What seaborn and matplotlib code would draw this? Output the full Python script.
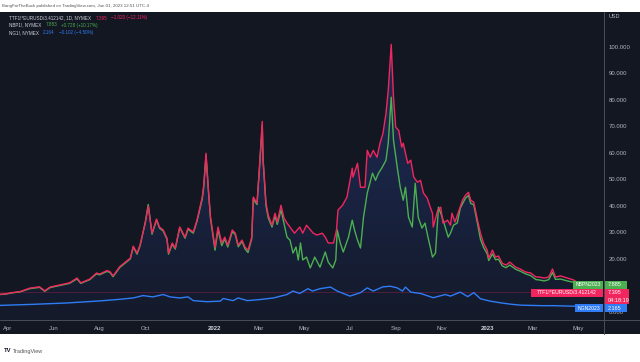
import matplotlib
matplotlib.use("Agg")
import matplotlib.pyplot as plt
import matplotlib.dates as mdates
from matplotlib.patches import Rectangle
from matplotlib.lines import Line2D
from matplotlib.colors import LinearSegmentedColormap
import numpy as np
import pandas as pd
import seaborn as sns

# ---------------- data ----------------
ttf_dates = [
    "2021-03-21", "2021-03-28", "2021-04-06", "2021-04-17", "2021-04-30", "2021-05-13", "2021-05-20",
    "2021-05-27", "2021-06-09", "2021-06-22", "2021-07-02", "2021-07-07", "2021-07-19", "2021-07-28",
    "2021-08-01", "2021-08-11", "2021-08-15", "2021-08-19", "2021-08-28", "2021-09-11", "2021-09-15",
    "2021-09-20", "2021-09-24", "2021-10-01", "2021-10-05", "2021-10-10", "2021-10-16", "2021-10-20",
    "2021-10-25", "2021-10-30", "2021-11-01", "2021-11-06", "2021-11-10", "2021-11-16", "2021-11-23",
    "2021-11-27", "2021-12-04", "2021-12-09", "2021-12-16", "2021-12-18", "2021-12-21", "2021-12-24",
    "2021-12-27", "2022-01-02", "2022-01-06", "2022-01-11", "2022-01-15", "2022-01-19", "2022-01-25",
    "2022-01-29", "2022-02-02", "2022-02-07", "2022-02-11", "2022-02-15", "2022-02-20", "2022-02-22",
    "2022-02-27", "2022-03-02", "2022-03-06", "2022-03-07", "2022-03-11", "2022-03-14", "2022-03-19",
    "2022-03-23", "2022-03-26", "2022-03-31",
    "2022-04-04", "2022-04-08", "2022-04-13", "2022-04-18", "2022-04-25", "2022-04-29", "2022-05-04",
    "2022-05-13", "2022-05-18", "2022-05-25", "2022-05-29", "2022-06-02", "2022-06-09", "2022-06-13",
    "2022-06-15", "2022-06-21", "2022-06-27", "2022-07-04", "2022-07-05", "2022-07-11", "2022-07-15",
    "2022-07-21", "2022-07-24", "2022-07-28", "2022-08-01", "2022-08-06", "2022-08-10", "2022-08-14",
    "2022-08-18", "2022-08-21", "2022-08-25", "2022-08-28", "2022-08-31", "2022-09-04", "2022-09-08",
    "2022-09-10", "2022-09-16", "2022-09-20", "2022-09-24", "2022-09-29", "2022-10-03", "2022-10-07",
    "2022-10-12", "2022-10-16", "2022-10-19", "2022-10-20", "2022-10-26", "2022-10-30", "2022-11-02",
    "2022-11-08", "2022-11-12", "2022-11-14", "2022-11-18", "2022-11-22", "2022-11-28", "2022-12-02",
    "2022-12-06", "2022-12-09", "2022-12-13", "2022-12-18", "2022-12-22", "2022-12-26", "2022-12-31",
    "2023-01-02", "2023-01-07", "2023-01-11", "2023-01-15", "2023-01-20", "2023-01-25", "2023-01-30",
    "2023-02-07", "2023-02-13", "2023-02-20", "2023-02-27", "2023-03-06", "2023-03-10", "2023-03-17",
    "2023-03-23", "2023-03-28", "2023-04-01", "2023-04-08", "2023-04-17", "2023-04-25", "2023-05-04",
    "2023-05-18", "2023-05-31",
]
ttf_vals = [
    6.7, 6.8, 7.3, 7.7, 9.0, 9.5, 8.0, 9.4, 10.2, 11.0, 12.8, 11.0, 12.4, 14.7,
    14.3, 15.6, 15.2, 13.6, 17.1, 20.3, 24.8, 22.2, 25.2, 33.5, 39.9, 29.7, 35.0, 32.0,
    30.9, 27.8, 22.2, 26.0, 24.1, 32.0, 28.2, 31.6, 30.1, 34.6, 43.3, 47.8, 59.8, 47.0,
    35.7, 24.4, 32.0, 26.0, 28.2, 25.2, 30.9, 29.7, 25.2, 27.1, 24.5, 23.3, 28.2, 43.3,
    41.0, 53.4, 71.8, 58.3, 41.0, 36.5, 32.7, 37.2, 33.9, 40.2,
    35.4, 33.5, 31.6, 29.7, 32.0, 29.7, 32.7, 29.7, 29.0, 29.7, 28.2, 26.0, 26.0, 30.9,
    38.4, 40.2, 43.3, 54.2, 50.8, 56.0, 47.0, 47.0, 60.9, 58.3, 60.9, 58.3, 63.6, 67.3,
    74.8, 83.5, 100.8, 80.9, 69.6, 68.4, 62.1, 63.6, 56.0, 57.2, 50.8, 48.9, 49.6, 44.8,
    42.9, 39.5, 37.2, 32.0, 38.4, 39.5, 33.5, 34.6, 32.7, 37.2, 33.9, 37.2, 42.1, 44.0,
    45.1, 42.1, 41.4, 34.6, 29.7, 26.0, 23.3, 20.3, 23.3, 20.7, 21.1, 18.4, 17.7, 18.8,
    16.9, 16.2, 15.1, 14.7, 13.2, 13.2, 12.8, 13.2, 16.2, 13.2, 13.6, 12.8, 12.1, 10.5,
    8.8, 7.395,
]

nbp_dates = ttf_dates[:66] + [
    "2022-04-05", "2022-04-08", "2022-04-12", "2022-04-16", "2022-04-20", "2022-04-23", "2022-04-26",
    "2022-04-29", "2022-05-04", "2022-05-09", "2022-05-15", "2022-05-22", "2022-05-29", "2022-06-02",
    "2022-06-08", "2022-06-12", "2022-06-14", "2022-06-18", "2022-06-22", "2022-06-29", "2022-07-04",
    "2022-07-07", "2022-07-11", "2022-07-15", "2022-07-19", "2022-07-24", "2022-07-31", "2022-08-04",
    "2022-08-08", "2022-08-13", "2022-08-18", "2022-08-21", "2022-08-25", "2022-08-28", "2022-09-02",
    "2022-09-06", "2022-09-10", "2022-09-13", "2022-09-17", "2022-09-22", "2022-09-26", "2022-09-30",
    "2022-10-05", "2022-10-09", "2022-10-13", "2022-10-19", "2022-10-23", "2022-10-27", "2022-11-01",
    "2022-11-05", "2022-11-09", "2022-11-12", "2022-11-16", "2022-11-21", "2022-11-25", "2022-12-02",
    "2022-12-06", "2022-12-09", "2022-12-13", "2022-12-18", "2022-12-22", "2022-12-26", "2022-12-31",
    "2023-01-02", "2023-01-07", "2023-01-11", "2023-01-15", "2023-01-20", "2023-01-25", "2023-01-30",
    "2023-02-07", "2023-02-13", "2023-02-20", "2023-02-27", "2023-03-06", "2023-03-10", "2023-03-17",
    "2023-03-23", "2023-03-28", "2023-04-01", "2023-04-08", "2023-04-17", "2023-04-25", "2023-05-04",
    "2023-05-18", "2023-05-31",
]
nbp_vals = [
    6.6, 6.7, 7.2, 7.6, 8.8, 9.3, 7.8, 9.2, 10.0, 10.8, 12.5, 10.8, 12.2, 14.4,
    14.0, 15.3, 14.9, 13.3, 16.8, 20.0, 24.5, 21.8, 24.9, 33.8, 40.5, 29.3, 34.7, 31.6,
    30.5, 27.4, 21.8, 25.6, 23.7, 31.9, 27.8, 31.2, 29.7, 34.2, 42.6, 47.2, 59.0, 46.5,
    35.2, 23.3, 31.0, 25.0, 27.6, 24.5, 30.3, 29.2, 24.6, 26.6, 23.8, 22.4, 27.6, 42.5,
    40.5, 53.0, 70.5, 57.5, 40.0, 35.5, 32.0, 36.3, 33.0, 38.5,
    32.0, 28.2, 27.1, 22.2, 24.5, 19.6, 26.0, 19.6, 20.7, 16.6, 20.7, 16.9, 22.6, 18.8,
    16.6, 19.6, 30.9, 26.0, 22.6, 28.2, 34.6, 30.9, 27.1, 24.1, 35.7, 44.8, 52.3, 49.6,
    52.3, 54.5, 57.2, 63.6, 80.9, 64.7, 54.5, 47.0, 42.1, 47.0, 35.7, 32.0, 48.5, 35.7,
    31.6, 33.5, 28.2, 20.7, 22.2, 39.5, 35.7, 32.0, 28.2, 29.7, 32.7, 33.5, 39.1, 42.9,
    43.9, 40.9, 40.4, 33.4, 27.4, 24.4, 21.9, 19.4, 21.9, 19.7, 19.9, 17.4, 16.7, 17.7,
    16.1, 15.4, 14.4, 13.7, 12.2, 12.1, 11.7, 12.2, 14.9, 12.3, 12.4, 11.7, 11.2, 10.2,
    8.9, 7.885,
]

ng_dates = [
    "2021-03-21", "2021-05-04", "2021-06-18", "2021-08-02", "2021-08-24", "2021-09-15", "2021-09-28",
    "2021-10-11", "2021-10-25", "2021-11-03", "2021-11-16", "2021-11-27", "2021-12-04", "2021-12-22",
    "2022-01-09", "2022-01-13", "2022-01-26", "2022-02-02", "2022-02-14", "2022-03-03", "2022-03-21",
    "2022-04-08", "2022-04-16", "2022-04-25", "2022-05-06", "2022-05-12", "2022-05-22", "2022-06-05",
    "2022-06-14", "2022-07-01", "2022-07-15", "2022-07-24", "2022-08-01", "2022-08-14", "2022-08-24",
    "2022-09-02", "2022-09-09", "2022-09-13", "2022-09-20", "2022-10-03", "2022-10-20", "2022-11-05",
    "2022-11-12", "2022-11-25", "2022-12-05", "2022-12-13", "2022-12-22", "2023-01-04", "2023-01-17",
    "2023-01-30", "2023-02-13", "2023-03-13", "2023-03-29", "2023-04-25", "2023-05-31",
]
ng_vals = [
    2.5, 2.9, 3.4, 4.2, 4.7, 5.3, 6.2, 5.7, 6.6, 5.7, 5.3, 5.7, 4.3, 3.9,
    4.1, 5.1, 4.3, 5.3, 4.3, 4.7, 5.3, 6.6, 7.9, 7.0, 8.8, 7.9, 8.8, 9.4,
    7.9, 6.0, 7.3, 9.1, 7.9, 9.5, 9.7, 9.1, 7.9, 9.4, 7.5, 7.0, 5.4, 6.6,
    6.0, 7.5, 5.8, 7.3, 5.0, 4.1, 3.5, 3.0, 2.6, 2.4, 2.4, 2.2, 2.165,
]

x_tick_dates = ["2021-04-01", "2021-06-01", "2021-08-01", "2021-10-01", "2022-01-01", "2022-03-01",
                "2022-05-01", "2022-07-01", "2022-09-01", "2022-11-01", "2023-01-01", "2023-03-01",
                "2023-05-01"]
x_tick_labels = ["Apr", "Jun", "Aug", "Oct", "2022", "Mar", "May", "Jul", "Sep", "Nov", "2023", "Mar", "May"]
y_ticks = [0, 20, 30, 40, 50, 60, 70, 80, 90, 100]

# ---------------- styling ----------------
sns.set_theme(style="dark")
plt.rcParams['font.family'] = ['Liberation Sans', 'DejaVu Sans']

BG = '#131722'
RED = '#f2265f'
GREEN = '#4caf50'
BLUE = '#2f7cf6'
TXT = '#b2b5be'
W, H = 640, 362


def fx(x):
    return x / W


def fy(y):
    return 1 - y / H


fig = plt.figure(figsize=(6.4, 3.62), dpi=100)
fig.patch.set_facecolor('white')
fig.add_artist(Rectangle((0, fy(334)), 1, (334 - 12) / H, transform=fig.transFigure,
                         facecolor=BG, edgecolor='none', zorder=0))

ax = fig.add_axes([0, fy(320), 604 / W, (320 - 12) / H])
ax.set_facecolor(BG)

ttf = pd.DataFrame({'date': pd.to_datetime(ttf_dates), 'value': ttf_vals})
nbp = pd.DataFrame({'date': pd.to_datetime(nbp_dates), 'value': nbp_vals})
ng = pd.DataFrame({'date': pd.to_datetime(ng_dates), 'value': ng_vals})

xlim = (pd.Timestamp('2021-03-21 07:00'), pd.Timestamp('2023-06-04 17:00'))
ylim = (-3.0, 113.0)

# gradient area under TTF
poly = ax.fill_between(ttf['date'], ttf['value'], ylim[0], facecolor='none', edgecolor='none', lw=0)
x0n, x1n = mdates.date2num(xlim[0]), mdates.date2num(xlim[1])
grad = np.linspace(0, 1, 256).reshape(-1, 1)
cmap = LinearSegmentedColormap.from_list('g', ['#141a2a', '#1a2444', '#1f2b52'])
im = ax.imshow(grad, extent=[x0n, x1n, ylim[0], 105], origin='lower', aspect='auto', cmap=cmap, zorder=1)
im.set_clip_path(poly.get_paths()[0], transform=ax.transData)

ax.axhline(7.395, color=RED, alpha=0.3, lw=0.6, zorder=2)

sns.lineplot(data=ng, x='date', y='value', ax=ax, color=BLUE, lw=1.0, estimator=None, zorder=3)
sns.lineplot(data=nbp, x='date', y='value', ax=ax, color=GREEN, lw=1.0, estimator=None, zorder=4)
sns.lineplot(data=ttf, x='date', y='value', ax=ax, color=RED, lw=1.0, estimator=None, zorder=5)

ax.set_xlim(xlim)
ax.set_ylim(ylim)
ax.grid(False)
ax.set_xlabel('')
ax.set_ylabel('')
for s in ax.spines.values():
    s.set_visible(False)

ax.yaxis.tick_right()
ax.set_yticks(y_ticks)
ax.set_yticklabels([f'{v:.3f}' for v in y_ticks])
ax.tick_params(axis='y', length=0, pad=3.2, labelsize=4.3, labelcolor=TXT)
ax.set_xticks(pd.to_datetime(x_tick_dates))
ax.set_xticklabels(x_tick_labels)
ax.tick_params(axis='x', length=0, pad=4, labelsize=4.3, labelcolor=TXT)
for lab in ax.get_xticklabels():
    if lab.get_text() in ('2022', '2023'):
        lab.set_fontweight('bold')
        lab.set_color('#d1d4dc')

# separators
fig.add_artist(Line2D([0, 1], [fy(320), fy(320)], transform=fig.transFigure, color='#4a4e59', lw=0.7, zorder=2))
fig.add_artist(Line2D([fx(604), fx(604)], [fy(12), fy(334)], transform=fig.transFigure, color='#4a4e59', lw=0.7, zorder=2))

fig.text(fx(609), fy(17), 'USD', fontsize=4.0, color=TXT, va='center', ha='left')

# header and footer
fig.text(fx(2), fy(5.5), 'BangForTheBuck published on TradingView.com, Jun 01, 2023 12:51 UTC-4',
         fontsize=3.15, color='#555555', va='center', ha='left')
fig.text(fx(4), fy(351), 'TV', fontsize=4.2, color='#131722', fontweight='bold', va='center', ha='left')
fig.text(fx(13), fy(351), 'TradingView', fontsize=4.0, color='#555555', va='center', ha='left')

# legend rows
legend_rows = [
    (18, 'TTF1!*EURUSD/3.412142, 1D, NYMEX', '7.395', '\u22121.020 (\u221212.11%)', RED),
    (25, 'NBP1!, NYMEX', '7.883', '+0.728 (+10.17%)', GREEN),
    (32.5, 'NG1!, NYMEX', '2.164', '\u22120.102 (\u22124.50%)', BLUE),
]
for yy, name, val, chg, col in legend_rows:
    t1 = fig.text(fx(9), fy(yy), name, fontsize=3.35, color='#d1d4dc', va='center', ha='left')
    t2 = ax.annotate(val, xy=(1, 0.5), xycoords=t1, xytext=(3, 0), textcoords='offset points',
                     fontsize=3.35, color=col, va='center', ha='left', annotation_clip=False)
    ax.annotate(chg, xy=(1, 0.5), xycoords=t2, xytext=(3, 0), textcoords='offset points',
                fontsize=3.35, color=col, va='center', ha='left', annotation_clip=False)


def box(x0, y0, x1, y1, col):
    fig.add_artist(Rectangle((fx(x0), fy(y1)), (x1 - x0) / W, (y1 - y0) / H, transform=fig.transFigure,
                             facecolor=col, edgecolor='none', zorder=6))


# right-side labels
box(573, 280.5, 603, 288.5, GREEN)
fig.text(fx(588), fy(284.5), 'NBPN2023', fontsize=3.7, color='white', ha='center', va='center', zorder=7)
box(605, 280.5, 627, 288.5, GREEN)
fig.text(fx(608), fy(284.5), '7.885', fontsize=4.0, color='white', ha='left', va='center', zorder=7)

box(531, 289, 603, 297, RED)
fig.text(fx(567), fy(293), 'TTF1!*EURUSD/3.412142', fontsize=3.7, color='white', ha='center', va='center', zorder=7)
box(605, 289, 629, 304, RED)
fig.text(fx(608), fy(293), '7.395', fontsize=4.0, color='white', ha='left', va='center', zorder=7)
fig.text(fx(608), fy(300.3), '04:18:19', fontsize=4.0, color='white', ha='left', va='center', zorder=7)

box(575, 304, 603, 312, BLUE)
fig.text(fx(589), fy(308), 'NGN2023', fontsize=3.7, color='white', ha='center', va='center', zorder=7)
box(605, 304, 627, 312, BLUE)
fig.text(fx(608), fy(308), '2.165', fontsize=4.0, color='white', ha='left', va='center', zorder=7)

fig.savefig('out.png', dpi=100, facecolor=fig.get_facecolor())
